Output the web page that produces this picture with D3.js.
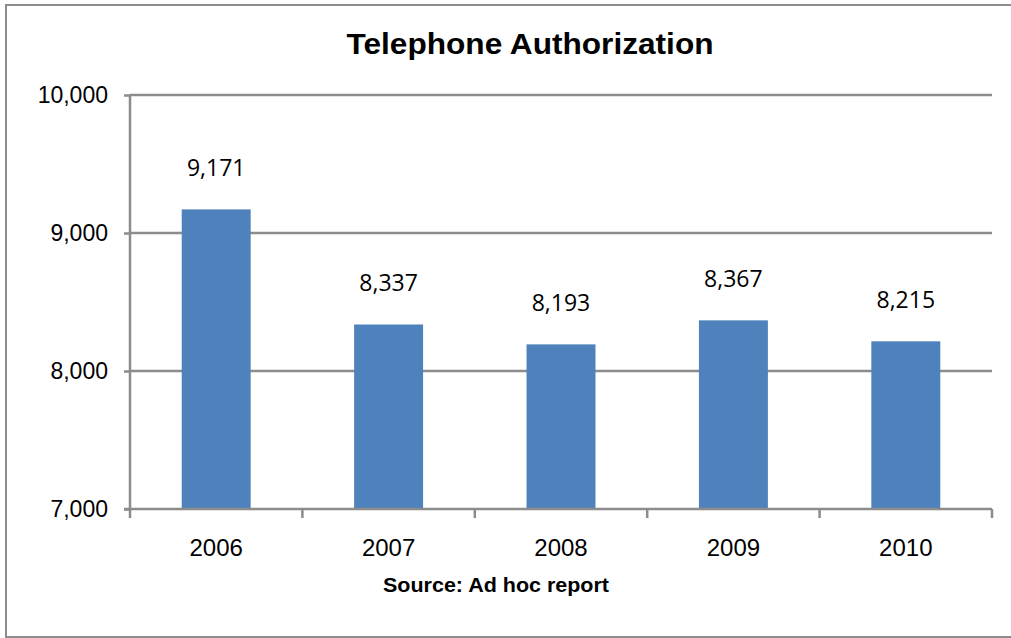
<!DOCTYPE html>
<html>
<head>
<meta charset="utf-8">
<script src="https://cdn.jsdelivr.net/npm/d3@7"></script>
<style>
  html, body { margin: 0; padding: 0; background: #fff; overflow: hidden; }
  svg { display: block; }
</style>
</head>
<body>
<div id="chart"></div>
<script>
const years = ["2006", "2007", "2008", "2009", "2010"];
const counts = [9171, 8337, 8193, 8367, 8215];
const yTicks = [7000, 8000, 9000, 10000];

const W = 1011, H = 638;
const margin = { top: 95, right: 19, bottom: 129, left: 130 };
const width = W - margin.left - margin.right;
const height = H - margin.top - margin.bottom;
const axisColor = "#8c8c8c";
const fmt = d3.format(",");

const svg = d3.select("#chart")
  .append("svg")
  .attr("width", W)
  .attr("height", H);

// outer frame: left, top and bottom edges only (right edge is off the picture)
svg.append("path")
  .attr("d", `M${W},5H6V637H${W}`)
  .attr("fill", "none")
  .attr("stroke", axisColor)
  .attr("stroke-width", 2);

svg.append("text")
  .attr("x", 530)
  .attr("y", 54)
  .attr("text-anchor", "middle")
  .style("font-family", "'Liberation Sans', Arial, sans-serif")
  .style("font-weight", "bold")
  .style("font-size", "29px")
  .attr("textLength", 367)
  .attr("lengthAdjust", "spacingAndGlyphs")
  .text("Telephone Authorization");

const g = svg.append("g")
  .attr("transform", `translate(${margin.left},${margin.top})`);

const x = d3.scaleBand().domain(years).range([0, width]);
const y = d3.scaleLinear().domain([7000, 10000]).range([height, 0]);

// gridlines
g.selectAll(".grid")
  .data(yTicks.slice(1))
  .enter()
  .append("line")
  .attr("x1", 0)
  .attr("x2", width)
  .attr("y1", d => y(d))
  .attr("y2", d => y(d))
  .attr("stroke", axisColor)
  .attr("stroke-width", 2.5);

// bars
const barW = x.bandwidth() * 0.4;
g.selectAll(".bar")
  .data(counts)
  .enter()
  .append("rect")
  .attr("x", (d, i) => x(years[i]) + (x.bandwidth() - barW) / 2)
  .attr("y", d => y(d))
  .attr("width", barW)
  .attr("height", d => height - y(d))
  .attr("fill", "#4f81bd");

// value labels
g.selectAll(".lbl")
  .data(counts)
  .enter()
  .append("text")
  .attr("x", (d, i) => x(years[i]) + x.bandwidth() / 2)
  .attr("y", d => y(d) - 33)
  .attr("text-anchor", "middle")
  .style("font-family", "'Open Sans', sans-serif")
  .style("font-size", "23px")
  .style("fill", "#000")
  .text(d => fmt(d));

// y axis
const yAxis = g.append("g")
  .call(d3.axisLeft(y).tickValues(yTicks).tickFormat(fmt).tickSize(6).tickPadding(16));
yAxis.select(".domain").attr("stroke", axisColor).attr("stroke-width", 2.5)
  .attr("d", `M0,${height}V0`);
yAxis.selectAll(".tick line").attr("stroke", axisColor).attr("stroke-width", 2.5);
yAxis.selectAll(".tick text")
  .style("font-family", "'Liberation Sans', Arial, sans-serif")
  .style("font-size", "23px")
  .attr("fill", "#000");

// x axis with ticks between categories
const xAxis = g.append("g").attr("transform", `translate(0,${height})`);
xAxis.append("line")
  .attr("x1", -6).attr("x2", width)
  .attr("stroke", axisColor).attr("stroke-width", 2.5);
const bounds = years.map(d => x(d)).concat([width]);
xAxis.selectAll(".xt")
  .data(bounds)
  .enter()
  .append("line")
  .attr("x1", d => d).attr("x2", d => d)
  .attr("y1", 0).attr("y2", 9)
  .attr("stroke", axisColor).attr("stroke-width", 2.5);
xAxis.selectAll(".xl")
  .data(years)
  .enter()
  .append("text")
  .attr("x", d => x(d) + x.bandwidth() / 2)
  .attr("y", 47)
  .attr("text-anchor", "middle")
  .style("font-family", "'Liberation Sans', Arial, sans-serif")
  .style("font-size", "24px")
  .text(d => d);

svg.append("text")
  .attr("x", 496)
  .attr("y", 592)
  .attr("text-anchor", "middle")
  .style("font-family", "'Liberation Sans', Arial, sans-serif")
  .style("font-weight", "bold")
  .style("font-size", "20px")
  .attr("textLength", 226)
  .attr("lengthAdjust", "spacingAndGlyphs")
  .text("Source: Ad hoc report");
</script>
</body>
</html>
